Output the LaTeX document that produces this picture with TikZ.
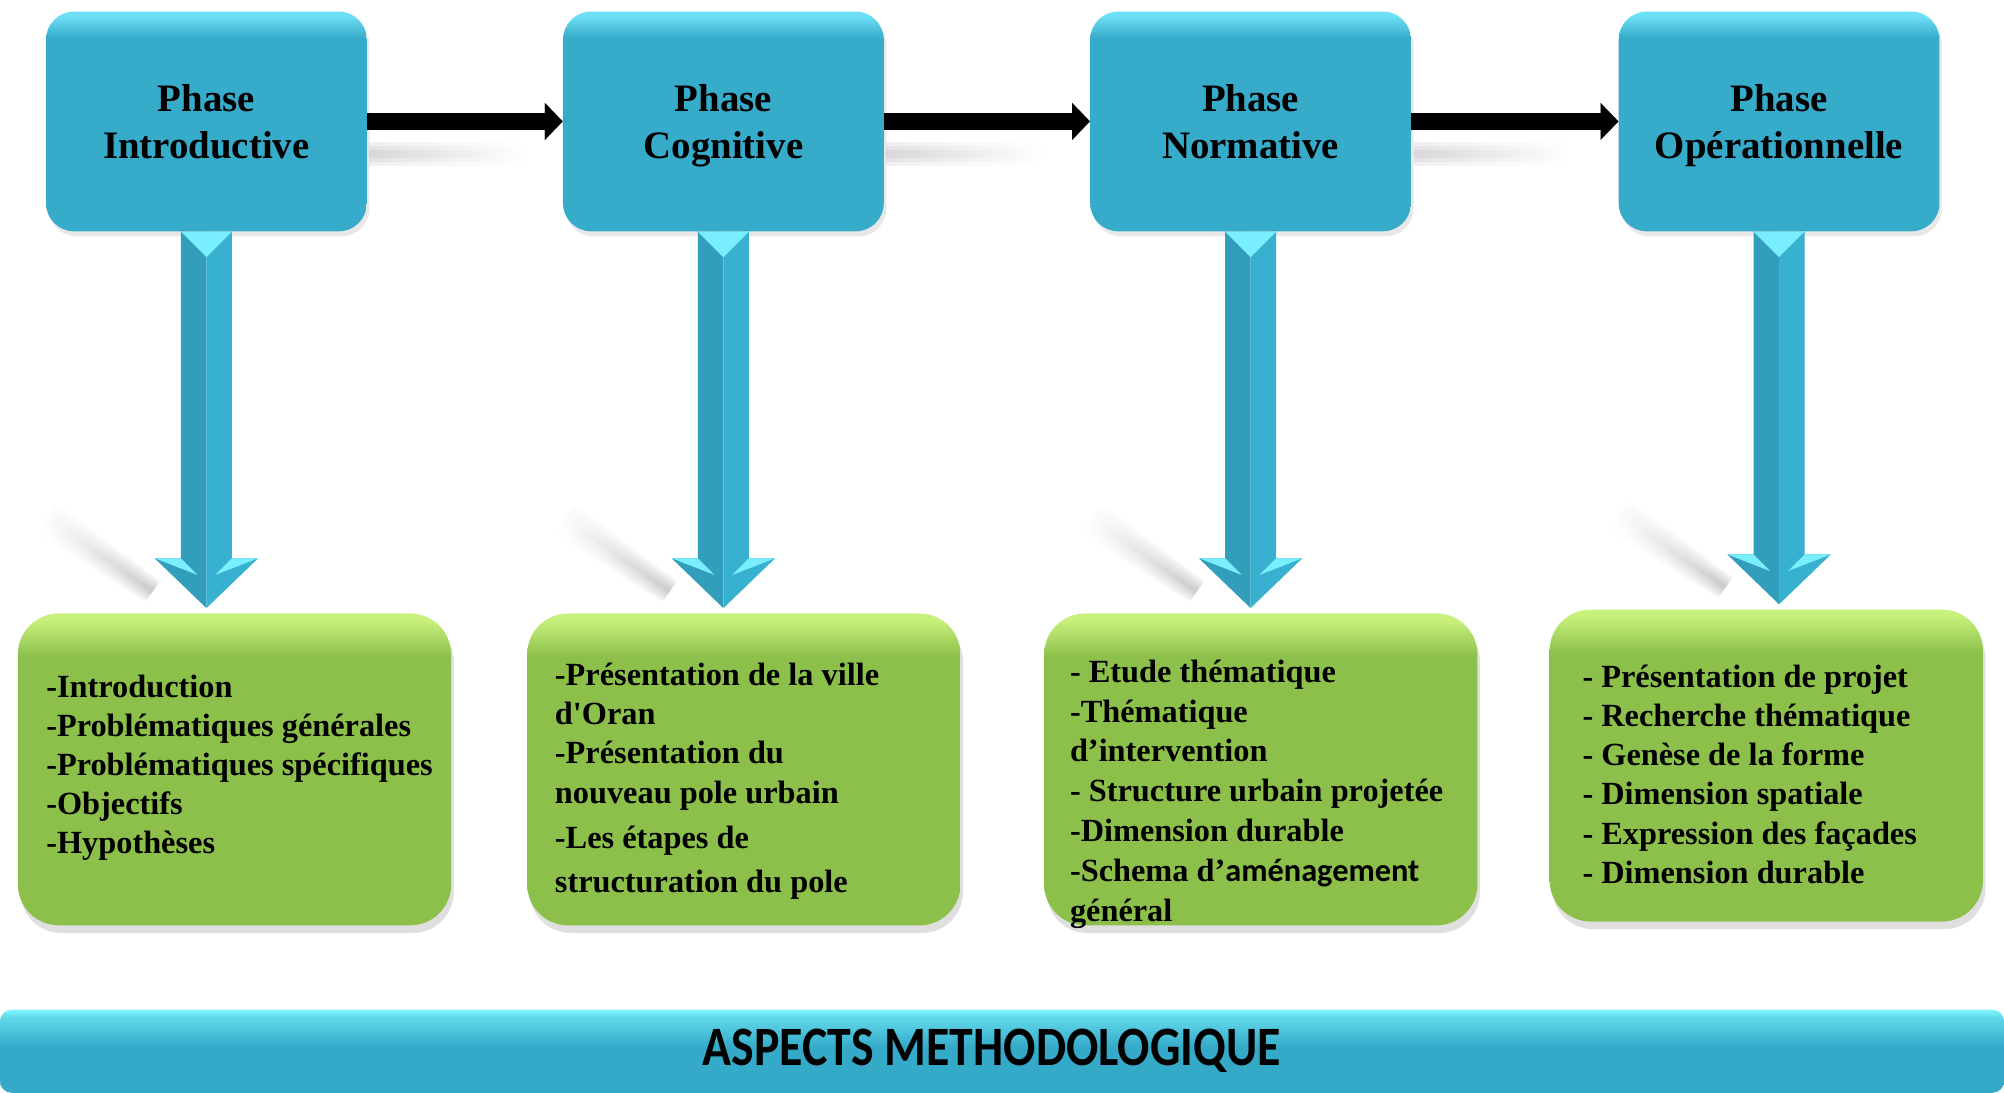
\documentclass[tikz,border=0pt]{standalone}
\usepackage{fontspec}
\setmainfont{Liberation Serif}
\newfontfamily\calibri{Carlito}
\usepackage{graphicx}
\usetikzlibrary{shadows,arrows.meta,calc}

\definecolor{phaseblue}{RGB}{54,171,202}
\definecolor{phaserim}{RGB}{110,224,246}
\definecolor{arrowdark}{RGB}{50,158,188}
\definecolor{arrowlight}{RGB}{56,176,207}
\definecolor{bevelcyan}{RGB}{120,238,255}
\definecolor{listgreen}{RGB}{140,192,74}
\definecolor{listrim}{RGB}{200,240,124}
\definecolor{barblue}{RGB}{52,169,200}
\definecolor{bartop}{RGB}{125,246,255}

\pgfdeclareverticalshading{phaseshade}{100bp}{color(0bp)=(phaseblue); color(25bp)=(phaseblue); color(69bp)=(phaseblue); color(74bp)=(phaserim); color(100bp)=(phaserim)}
\pgfdeclareverticalshading{listshade}{100bp}{color(0bp)=(listgreen); color(25bp)=(listgreen); color(68bp)=(listgreen); color(74bp)=(listrim); color(100bp)=(listrim)}
\pgfdeclareverticalshading{barshade}{100bp}{color(0bp)=(barblue); color(25bp)=(barblue); color(52bp)=(barblue); color(70bp)=(bartop!60!barblue); color(75bp)=(bartop); color(100bp)=(bartop)}

\tikzset{%
  phase box/.style={rounded corners=22pt, minimum width=251pt, minimum height=172pt,
    inner sep=0pt, align=center, text depth=0pt, shading=phaseshade,
    drop shadow={opacity=0.18, shadow xshift=2pt, shadow yshift=-4pt},
    font=\fontsize{30.4}{36.5}\selectfont\bfseries},
  list box/.style={rounded corners=32pt, minimum width=339pt, minimum height=244pt,
    inner sep=0pt, shading=listshade,
    drop shadow={opacity=0.25, shadow xshift=2pt, shadow yshift=-6pt}},
  list text/.style={anchor=base west, align=left, inner sep=0pt,
    font=\fontsize{25.3}{30.6}\selectfont\bfseries},
  flow arrow/.style={line width=13.5pt, -{Triangle[length=14pt, width=29pt, line width=0.1pt]}},
  base bar/.style={rounded corners=9pt, minimum width=1568pt, minimum height=65pt,
    inner sep=0pt, shading=barshade, font=\calibri\bfseries\fontsize{43.5}{44}\selectfont}
}

\begin{document}
\begin{tikzpicture}[x=1pt, y=-1pt]
  \useasboundingbox (0,0) rectangle (1568,855);

  % the four phases
  \node[phase box] (p1) at (161.5,95) {Phase\\Introductive};
  \node[phase box] (p2) at (566,95) {Phase\\Cognitive};
  \node[phase box] (p3) at (978.5,95) {Phase\\Normative};
  \node[phase box] (p4) at (1392,95) {Phase\\Opérationnelle};

  % contents
  \node[list box] (d1) at (183.5,602) {};
  \node[list box] (d2) at (582,602) {};
  \node[list box] (d3) at (986.5,602) {};
  \node[list box] (d4) at (1382,599) {};

  \node[list text] (t1) at (36,668) {-Introduction\\-Problématiques générales\\-Problématiques spécifiques\\-Objectifs\\-Hypothèses};
  \node[list text] (t2) at (434,698) {-Présentation de la ville\\d\textquotesingle Oran\\-Présentation du\\nouveau pole urbain\\[5pt]-Les étapes de\\[3.5pt]structuration du pole};
  \node[list text, font=\fontsize{25.3}{31.2}\selectfont\bfseries] (t3) at (837,721) {- Etude thématique\\-Thématique\\d’intervention\\- Structure urbain projetée\\-Dimension durable\\-Schema d’{\calibri aménagement}\\général};
  \node[list text] (t4) at (1238,691) {- Présentation de projet\\- Recherche thématique\\- Genèse de la forme\\- Dimension spatiale\\- Expression des façades\\- Dimension durable};

  \node[base bar] (aspects) at (784,822.5) {\scalebox{0.86}[1]{ASPECTS METHODOLOGIQUE}\hspace*{16pt}};

  % black arrows between phases
  \foreach \i/\j in {1/2,2/3,3/4}{
    \foreach \w in {3,6,9}
      \shade[left color=black!40, right color=white, opacity=0.15]
        ([shift={(2pt,{-25.5pt+\w*1pt})}]p\i.east) rectangle ([shift={(125pt,{-25.5pt-\w*1pt})}]p\i.east);
    \draw[flow arrow] (p\i.east) -- (p\j.west);
  }

  % blue arrows down to the contents
  \foreach \i in {1,...,4}{
    \path let \p1=(p\i.south), \p2=(d\i.north) in
      coordinate (s\i) at (\x1,\y1)
      coordinate (h\i) at (\x1,{\y2+43pt})
      coordinate (a\i) at (\x1,{\y2+4pt});
    \foreach \w in {2,5,8,11,14}
      \shade[left color=white, right color=black!50, opacity=0.1] let \p0=(h\i) in
        ({\x0-125pt-0.58*\w*1pt},{\y0+31pt-0.815*\w*1pt})
        -- ({\x0-125pt+0.58*\w*1pt},{\y0+31pt+0.815*\w*1pt})
        -- ({\x0-42pt+0.4*\w*1pt},{\y0-26pt+0.56*\w*1pt})
        -- ({\x0-42pt-0.4*\w*1pt},{\y0-26pt-0.56*\w*1pt}) -- cycle;
    \fill[arrowdark] (s\i) -- ([xshift=-20pt]s\i) -- ([xshift=-20pt]h\i)
      -- ([xshift=-40.5pt]h\i) -- (a\i) -- cycle;
    \fill[arrowlight] (s\i) -- ([xshift=20pt]s\i) -- ([xshift=20pt]h\i)
      -- ([xshift=40.5pt]h\i) -- (a\i) -- cycle;
    \fill[bevelcyan] ([xshift=-20pt]s\i) -- ([xshift=20pt]s\i) -- ([yshift=-20pt]s\i) -- cycle;
    \fill[bevelcyan] ([xshift=-40.5pt]h\i) -- ([xshift=-20pt]h\i) -- ([shift={(-7pt,-13pt)}]h\i) -- cycle;
    \fill[bevelcyan] ([xshift=40.5pt]h\i) -- ([xshift=20pt]h\i) -- ([shift={(7pt,-13pt)}]h\i) -- cycle;
  }
\end{tikzpicture}
\end{document}
